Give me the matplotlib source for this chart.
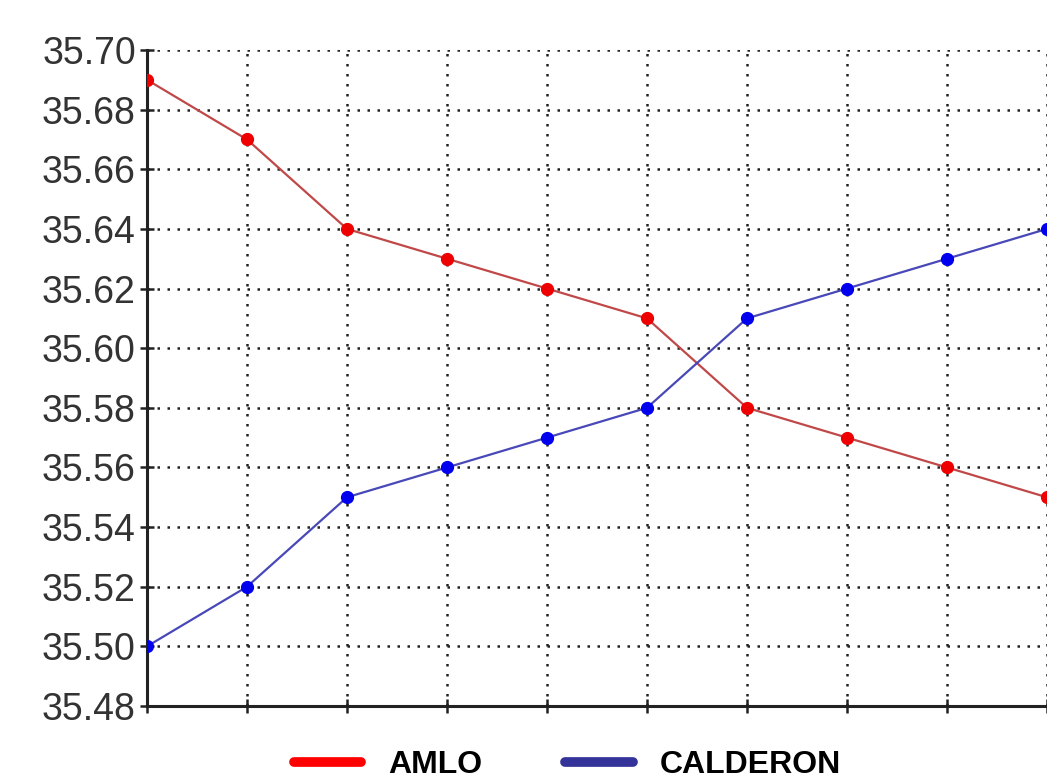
import matplotlib
matplotlib.use("Agg")
import matplotlib.pyplot as plt
from matplotlib.lines import Line2D

x_positions = list(range(10))
amlo = [35.69, 35.67, 35.64, 35.63, 35.62, 35.61, 35.58, 35.57, 35.56, 35.55]
calderon = [35.50, 35.52, 35.55, 35.56, 35.57, 35.58, 35.61, 35.62, 35.63, 35.64]
y_ticks = [35.48, 35.50, 35.52, 35.54, 35.56, 35.58, 35.60, 35.62, 35.64, 35.66, 35.68, 35.70]
series_names = ["AMLO", "CALDERON"]

fig = plt.figure(figsize=(10.47, 7.84), dpi=100)
ax = fig.add_axes([147/1047, 78/784, 900/1047, 656/784])

ax.plot(x_positions, amlo, color="#c04848", lw=1.6, marker="o", ms=8.5,
        mfc="#ee0000", mec="#ee0000", zorder=3)
ax.plot(x_positions, calderon, color="#4848b8", lw=1.6, marker="o", ms=8.5,
        mfc="#0000ee", mec="#0000ee", zorder=3)

ax.set_xlim(0, 9)
ax.set_ylim(35.48, 35.70)
ax.set_xticks(x_positions)
ax.set_xticklabels([])
ax.set_yticks(y_ticks)
ax.set_yticklabels([f"{v:.2f}" for v in y_ticks], fontsize=27,
                   family="Liberation Sans", color="#333333")
ax.tick_params(axis="both", direction="inout", length=10, width=1.8, color="#222222", pad=3)
ax.grid(True, linestyle=(0, (1, 3)), color="#222222", linewidth=1.8)
ax.set_axisbelow(True)
for s in ["top", "right"]:
    ax.spines[s].set_visible(False)
for s in ["left", "bottom"]:
    ax.spines[s].set_color("#222222")
    ax.spines[s].set_linewidth(2.2)

handles = [Line2D([], [], color="#ff0000", lw=7, solid_capstyle="round"),
           Line2D([], [], color="#333399", lw=7, solid_capstyle="round")]
fig.legend(handles, series_names, loc="center", bbox_to_anchor=(0.542, 0.024),
           ncol=2, frameon=False, handlelength=2.1, handletextpad=0.85, columnspacing=2.6,
           borderpad=0, prop={"family": "Liberation Sans", "weight": "bold", "size": 23})

fig.savefig("out.png", dpi=100, facecolor="white")
